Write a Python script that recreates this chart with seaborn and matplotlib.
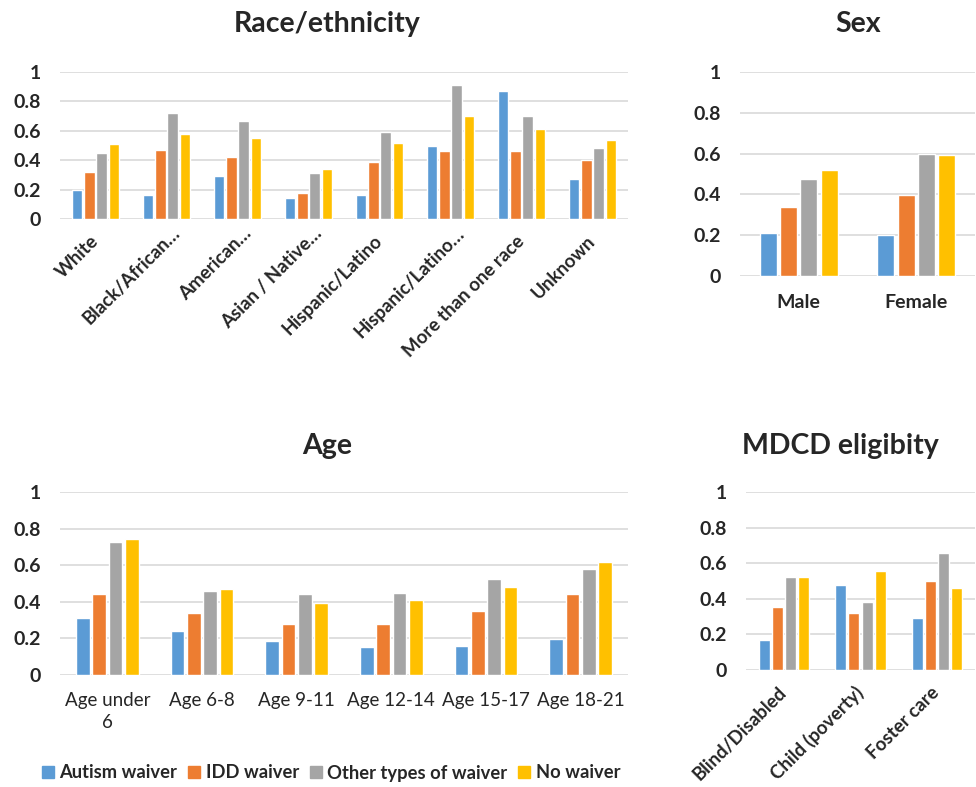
import matplotlib
matplotlib.use("Agg")
import matplotlib.pyplot as plt
import pandas as pd
import seaborn as sns
from matplotlib.transforms import ScaledTranslation

# series / categories
waivers = ['Autism waiver', 'IDD waiver', 'Other types of waiver', 'No waiver']
colors = ['#5B9BD5', '#ED7D31', '#A5A5A5', '#FFC000']

race_cats = ['White', 'Black/African…', 'American…', 'Asian / Native…',
             'Hispanic/Latino', 'Hispanic/Latino…', 'More than one race', 'Unknown']
race_autism = [0.20, 0.16, 0.29, 0.14, 0.16, 0.50, 0.87, 0.27]
race_idd = [0.32, 0.47, 0.42, 0.18, 0.39, 0.46, 0.46, 0.40]
race_other = [0.45, 0.72, 0.67, 0.31, 0.59, 0.91, 0.70, 0.48]
race_none = [0.51, 0.58, 0.55, 0.34, 0.52, 0.70, 0.61, 0.54]

sex_cats = ['Male', 'Female']
sex_autism = [0.21, 0.20]
sex_idd = [0.34, 0.395]
sex_other = [0.475, 0.60]
sex_none = [0.52, 0.595]

age_cats = ['Age under\n6', 'Age 6-8', 'Age 9-11', 'Age 12-14', 'Age 15-17', 'Age 18-21']
age_autism = [0.31, 0.24, 0.185, 0.155, 0.16, 0.195]
age_idd = [0.445, 0.34, 0.28, 0.28, 0.35, 0.445]
age_other = [0.725, 0.46, 0.44, 0.45, 0.525, 0.58]
age_none = [0.745, 0.47, 0.395, 0.41, 0.48, 0.62]

mdcd_cats = ['Blind/Disabled', 'Child (poverty)', 'Foster care']
mdcd_autism = [0.17, 0.48, 0.29]
mdcd_idd = [0.355, 0.32, 0.50]
mdcd_other = [0.52, 0.38, 0.66]
mdcd_none = [0.525, 0.555, 0.46]

sns.set_style('white')
plt.rcParams['font.family'] = ['Lato', 'DejaVu Sans']

W, H = 976, 787
fig = plt.figure(figsize=(W / 100, H / 100), dpi=100)


def px_axes(left, top, right, bottom):
    """Axes from pixel box (y measured from the top of the figure)."""
    return fig.add_axes([left / W, 1 - bottom / H, (right - left) / W, (bottom - top) / H])


def draw_panel(ax, cats, series, rotate, bold_x):
    rows = []
    for name, vals in zip(waivers, series):
        for c, v in zip(cats, vals):
            rows.append({'group': c, 'waiver': name, 'value': v})
    df = pd.DataFrame(rows)
    sns.barplot(data=df, x='group', y='value', hue='waiver', order=cats,
                hue_order=waivers, palette=colors, width=0.69, gap=0.16,
                saturation=1, legend=False, ax=ax)
    ax.set_ylim(0, 1)
    ax.set_yticks([0, 0.2, 0.4, 0.6, 0.8, 1])
    ax.set_yticklabels(['0', '0.2', '0.4', '0.6', '0.8', '1'], fontsize=14, fontweight='bold')
    ax.yaxis.grid(True, color='#D9D9D9', lw=1.2)
    ax.set_axisbelow(True)
    for s in ax.spines.values():
        s.set_visible(False)
    ax.tick_params(length=0, axis='y', pad=14)
    ax.set_xlabel('')
    ax.set_ylabel('')
    ax.set_xticks(range(len(cats)))
    if rotate:
        ax.tick_params(length=0, axis='x', pad=14)
        labels = ax.set_xticklabels(cats, rotation=45, ha='right', va='center',
                                    rotation_mode='anchor', fontsize=13.5, fontweight='bold')
        # truncated labels sit a bit further along the text direction
        for lbl in labels:
            if lbl.get_text().endswith('…'):
                lbl.set_transform(lbl.get_transform()
                                  + ScaledTranslation(0.11, 0.08, fig.dpi_scale_trans))
    elif bold_x:
        ax.tick_params(length=0, axis='x', pad=13)
        ax.set_xticklabels(cats, fontsize=14, fontweight='bold')
    else:
        ax.tick_params(length=0, axis='x', pad=12)
        ax.set_xticklabels(cats, fontsize=13.5, linespacing=1.4)


ax_race = px_axes(60, 72, 628, 219)
draw_panel(ax_race, race_cats, [race_autism, race_idd, race_other, race_none], True, True)

ax_sex = px_axes(740, 72, 975, 276)
draw_panel(ax_sex, sex_cats, [sex_autism, sex_idd, sex_other, sex_none], False, True)

ax_age = px_axes(60, 492, 628, 675)
draw_panel(ax_age, age_cats, [age_autism, age_idd, age_other, age_none], False, False)

ax_mdcd = px_axes(746, 492, 975, 670)
draw_panel(ax_mdcd, mdcd_cats, [mdcd_autism, mdcd_idd, mdcd_other, mdcd_none], True, True)

title_kw = dict(ha='center', va='center', fontsize=20.5, fontweight='bold')
fig.text(327 / W, 1 - 24 / H, 'Race/ethnicity', **title_kw)
fig.text(858 / W, 1 - 24 / H, 'Sex', **title_kw)
fig.text(327 / W, 1 - 446 / H, 'Age', **title_kw)
fig.text(840 / W, 1 - 446 / H, 'MDCD eligibity', **title_kw)

handles = [plt.Rectangle((0, 0), 1, 1, color=c) for c in colors]
leg = fig.legend(handles, waivers, loc='center', bbox_to_anchor=(331 / W, 1 - 773 / H),
                 ncol=4, frameon=False, handlelength=0.65, handleheight=0.65,
                 handletextpad=0.3, columnspacing=0.6, borderpad=0,
                 prop={'size': 13.2, 'weight': 'bold'})

fig.savefig('out.png', dpi=100)
